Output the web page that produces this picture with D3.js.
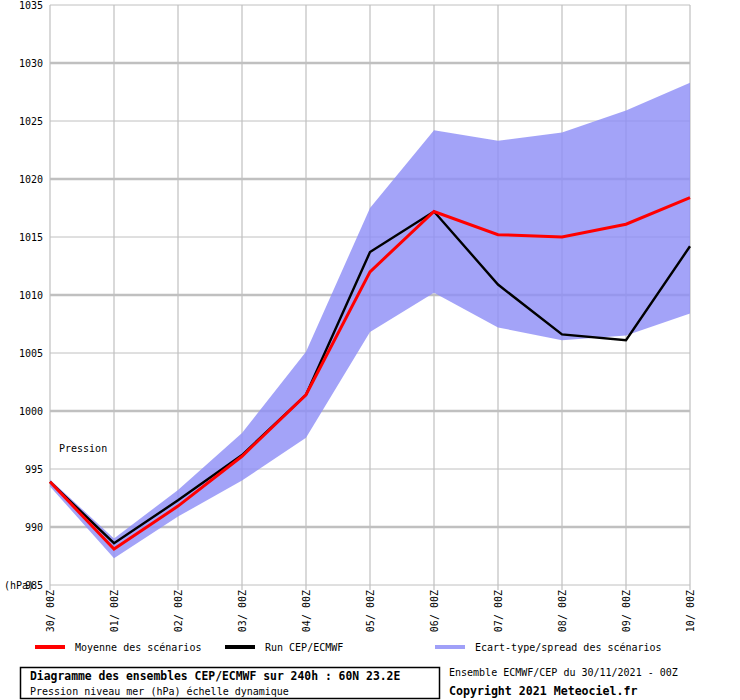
<!DOCTYPE html>
<html>
<head>
<meta charset="utf-8">
<script src="https://cdn.jsdelivr.net/npm/d3@7"></script>
<style>
  body { margin: 0; background: #fff; }
  text { font-family: "DejaVu Sans Mono", monospace; font-size: 10px; fill: #000; }
</style>
</head>
<body>
<svg id="chart" width="740" height="700"></svg>
<script>
// echeances (x axis)
const dates = ["30/ 00Z", "01/ 00Z", "02/ 00Z", "03/ 00Z", "04/ 00Z", "05/ 00Z",
               "06/ 00Z", "07/ 00Z", "08/ 00Z", "09/ 00Z", "10/ 00Z"];
// moyenne des scenarios
const mean = [993.9, 988.1, 991.8, 996.1, 1001.4, 1012.0, 1017.2, 1015.2, 1015.0, 1016.1, 1018.4];
// run deterministe
const run = [993.9, 988.6, 992.3, 996.2, 1001.4, 1013.7, 1017.2, 1010.9, 1006.6, 1006.1, 1014.2];
// ecart-type / spread
const spreadHigh = [994.1, 989.0, 993.2, 998.1, 1005.1, 1017.5, 1024.2, 1023.3, 1024.0, 1025.9, 1028.3];
const spreadLow = [993.5, 987.3, 990.9, 994.0, 997.7, 1006.8, 1010.2, 1007.2, 1006.1, 1006.5, 1008.4];
const yTicks = [985, 990, 995, 1000, 1005, 1010, 1015, 1020, 1025, 1030, 1035];

const svg = d3.select("#chart");
const plotLeft = 50, plotRight = 690, plotTop = 5, plotBottom = 585;

const x = d3.scalePoint().domain(d3.range(dates.length)).range([plotLeft, plotRight]);
const y = d3.scaleLinear().domain([985, 1035]).range([plotBottom, plotTop]);

// grille
const grid = svg.append("g");
grid.selectAll(".hline").data(yTicks).enter().append("line")
    .attr("x1", plotLeft).attr("x2", plotRight)
    .attr("y1", d => y(d)).attr("y2", d => y(d))
    .style("stroke", "#c0c0c0")
    .style("stroke-width", d => d % 10 === 0 ? 2.5 : 1);
grid.selectAll(".vline").data(d3.range(dates.length)).enter().append("line")
    .attr("x1", d => x(d)).attr("x2", d => x(d))
    .attr("y1", plotTop).attr("y2", plotBottom + 5)
    .style("stroke", "#c0c0c0").style("stroke-width", 1.2);

// bande spread
const area = d3.area()
    .x((d, i) => x(i))
    .y0((d, i) => y(spreadLow[i]))
    .y1(d => y(d));
svg.append("path").datum(spreadHigh)
    .attr("d", area)
    .style("fill", "#8c8cf6").style("fill-opacity", 0.8);

const line = d3.line().x((d, i) => x(i)).y(d => y(d));
svg.append("path").datum(run).attr("d", line)
    .style("fill", "none").style("stroke", "#000").style("stroke-width", 2.4);
svg.append("path").datum(mean).attr("d", line)
    .style("fill", "none").style("stroke", "#ff0000").style("stroke-width", 3);

// axe y
svg.selectAll(".ylab").data(yTicks).enter().append("text")
    .attr("x", 43).attr("y", d => y(d)).attr("dy", "0.35em")
    .attr("text-anchor", "end")
    .text(d => d);
svg.append("text").attr("x", 4).attr("y", 589).text("(hPa)");
svg.append("text").attr("x", 59).attr("y", 452).text("Pression");

// axe x
svg.selectAll(".xlab").data(dates).enter().append("text")
    .attr("transform", (d, i) => `translate(${x(i) + 4},${590}) rotate(-90)`)
    .attr("text-anchor", "end")
    .text(d => d);

// legende
const legend = [
    { label: "Moyenne des scénarios", color: "#ff0000", x: 35 },
    { label: "Run CEP/ECMWF", color: "#000000", x: 225 },
    { label: "Ecart-type/spread des scénarios", color: "#a0a0f8", x: 435 }
];
const lg = svg.append("g").selectAll("g").data(legend).enter().append("g");
lg.append("line")
    .attr("x1", d => d.x).attr("x2", d => d.x + 30)
    .attr("y1", 647).attr("y2", 647)
    .style("stroke", d => d.color).style("stroke-width", 4);
lg.append("text").attr("x", d => d.x + 40).attr("y", 651).text(d => d.label);

// cartouche
svg.append("rect").attr("x", 20.5).attr("y", 667.5).attr("width", 419).attr("height", 31)
    .style("fill", "none").style("stroke", "#000").style("stroke-width", 1.5);
svg.append("text").attr("x", 30).attr("y", 680)
    .style("font-weight", "bold").style("font-size", "11.4px")
    .text("Diagramme des ensembles CEP/ECMWF sur 240h : 60N 23.2E");
svg.append("text").attr("x", 30).attr("y", 695)
    .text("Pression niveau mer (hPa) échelle dynamique");
svg.append("text").attr("x", 449).attr("y", 676)
    .text("Ensemble ECMWF/CEP du 30/11/2021 - 00Z");
svg.append("text").attr("x", 449).attr("y", 695)
    .style("font-weight", "bold").style("font-size", "11.6px")
    .text("Copyright 2021 Meteociel.fr");
</script>
</body>
</html>
